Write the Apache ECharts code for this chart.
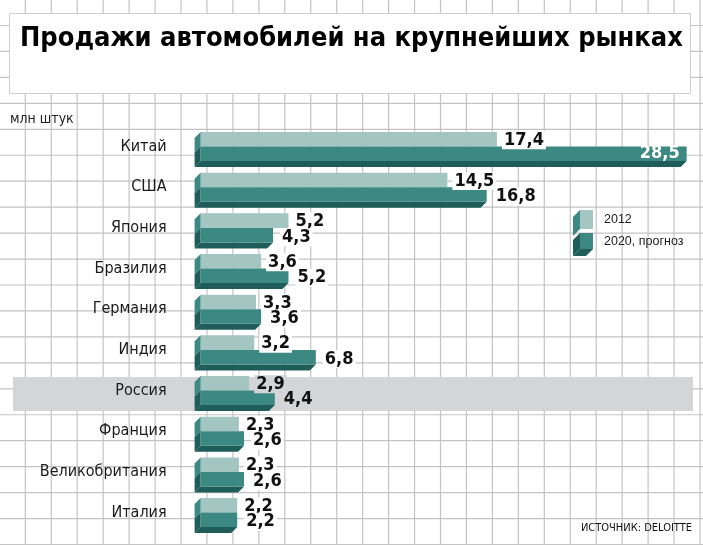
<!DOCTYPE html>
<html><head><meta charset="utf-8">
<script src="https://cdn.jsdelivr.net/npm/echarts@6/dist/echarts.min.js"></script>
<style>html,body{margin:0;padding:0;background:#fff}#c{width:703px;height:545px}</style>
</head><body><div id="c"></div>
<script>
const categories = ['Китай','США','Япония','Бразилия','Германия','Индия','Россия','Франция','Великобритания','Италия'];
const sales2012 = [17.4,14.5,5.2,3.6,3.3,3.2,2.9,2.3,2.3,2.2];
const sales2020 = [28.5,16.8,4.3,5.2,3.6,6.8,4.4,2.6,2.6,2.2];
const seriesNames = ['2012','2020, прогноз'];
const highlighted = 'Россия';
const titleText = 'Продажи автомобилей на крупнейших рынках';
const unitText = 'млн штук';
const sourceText = 'ИСТОЧНИК: DELOITTE';

const C_LIGHT = '#a4c6c3', C_MID = '#3c8882', C_DARK = '#1e5d59';
const BAND = '#d4d5d7';
const FONT = "'DejaVu Sans Condensed', 'DejaVu Sans', sans-serif";

const rows = categories.map((c, i) => [i, sales2012[i], sales2020[i]]);
const fmt = v => v.toFixed(1).replace('.', ',');

// background squared paper
const gridLines = [];
for (let x = 25.3; x < 703; x += 25.95) {
  gridLines.push({type:'line', z:0, silent:true, shape:{x1:x,y1:0,x2:x,y2:545}, style:{stroke:'#c3c3c3', lineWidth:1.2}});
}
for (let y = 25.5; y < 545; y += 25.95) {
  gridLines.push({type:'line', z:0, silent:true, shape:{x1:0,y1:y,x2:703,y2:y}, style:{stroke:'#c3c3c3', lineWidth:1.2}});
}

const chart = echarts.init(document.getElementById('c'), null, {renderer:'canvas'});
chart.setOption({
  backgroundColor:'#fff',
  animation:false,
  title:{
    text:titleText, left:20, top:25, padding:0, z:6,
    textStyle:{fontFamily:FONT, fontWeight:'bold', fontSize:27, color:'#000'}
  },
  grid:{left:199.6, top:126.2, height:406.7, width:495.6},
  xAxis:{type:'value', min:0, max:29, show:false},
  yAxis:{
    type:'category', data:categories, inverse:true, z:5,
    axisLine:{show:false}, axisTick:{show:false}, splitLine:{show:false},
    axisLabel:{color:'#1a1a1a', fontFamily:FONT, fontSize:16, margin:33}
  },
  graphic:[
    ...gridLines,
    {type:'rect', z:1, silent:true, shape:{x:9.5,y:13.5,width:681,height:80}, style:{fill:'#fff', stroke:'#cfcfcf', lineWidth:1}},
    {type:'text', z:6, x:10, y:119, style:{text:unitText, fill:'#222', font:'14px '+FONT, textVerticalAlign:'middle'}},
    {type:'text', z:6, x:692, y:528, style:{text:sourceText, fill:'#111', font:'11px '+FONT, textAlign:'right', textVerticalAlign:'middle'}},
    // legend blocks
    {type:'polygon', z:6, shape:{points:[[580,210],[580,229],[573,236],[573,217]]}, style:{fill:C_MID}},
    {type:'rect', z:6, shape:{x:580,y:210,width:13,height:19}, style:{fill:C_LIGHT}},
    {type:'polygon', z:6, shape:{points:[[580,233],[580,249],[573,256],[573,240]]}, style:{fill:C_DARK}},
    {type:'polygon', z:6, shape:{points:[[580,249],[593,249],[586,256],[573,256]]}, style:{fill:C_DARK}},
    {type:'rect', z:6, shape:{x:580,y:233,width:13,height:16}, style:{fill:C_MID}},
    {type:'text', z:6, x:604, y:220, style:{text:seriesNames[0], fill:'#222', font:"12.5px 'Liberation Sans', Arial, sans-serif", textVerticalAlign:'middle'}},
    {type:'text', z:6, x:604, y:242, style:{text:seriesNames[1], fill:'#222', font:"12.5px 'Liberation Sans', Arial, sans-serif", textVerticalAlign:'middle'}}
  ],
  series:[
    {
      type:'custom', z:1, silent:true,
      data:[[categories.indexOf(highlighted)]],
      encode:{y:0},
      renderItem(params, api){
        const yc = api.coord([0, api.value(0)])[1];
        return {type:'rect', shape:{x:13, y:yc-13.5, width:680, height:34}, style:{fill:BAND}};
      }
    },
    {
      type:'custom', z:3, name:seriesNames.join(' / '),
      data:rows,
      encode:{y:0, x:[1,2]},
      renderItem(params, api){
        const i = api.value(0), v1 = api.value(1), v2 = api.value(2);
        const p0 = api.coord([0, i]);
        const band = api.size([0,1])[1];
        const h = band*0.357, d = 6;
        const x0 = p0[0]+1, yc = p0[1];
        const x1 = api.coord([v1, i])[0];
        const x2 = api.coord([v2, i])[0];
        const bg = categories[i] === highlighted ? BAND : '#fff';
        const lblFont = 'bold 18px ' + FONT;
        const children = [
          {type:'rect', shape:{x:x0, y:yc-h, width:x1-x0, height:h}, style:{fill:C_LIGHT}},
          {type:'polygon', shape:{points:[[x0,yc-h],[x0,yc],[x0-d,yc+d],[x0-d,yc-h+d]]}, style:{fill:C_MID}},
          {type:'polygon', shape:{points:[[x0,yc],[x0,yc+h],[x0-d,yc+h+d],[x0-d,yc+d]]}, style:{fill:C_DARK}},
          {type:'polygon', shape:{points:[[x0,yc+h],[x2,yc+h],[x2-d,yc+h+d],[x0-d,yc+h+d]]}, style:{fill:C_DARK}},
          {type:'rect', shape:{x:x0, y:yc, width:x2-x0, height:h}, style:{fill:C_MID}},
          {type:'text', x:x1+5, y:yc-h/2+1, style:{text:fmt(v1), font:lblFont, fill:'#111', textVerticalAlign:'middle', backgroundColor:bg, padding:[0,2]}}
        ];
        if (v2 > 25) {
          children.push({type:'text', x:x2-7, y:yc+h/2, style:{text:fmt(v2), font:lblFont, fill:'#fff', textAlign:'right', textVerticalAlign:'middle'}});
        } else {
          children.push({type:'text', x:x2+7, y:yc+h/2+2, style:{text:fmt(v2), font:lblFont, fill:'#111', textVerticalAlign:'middle', backgroundColor:bg, padding:[0,2]}});
        }
        return {type:'group', children};
      }
    }
  ]
});
</script></body></html>
